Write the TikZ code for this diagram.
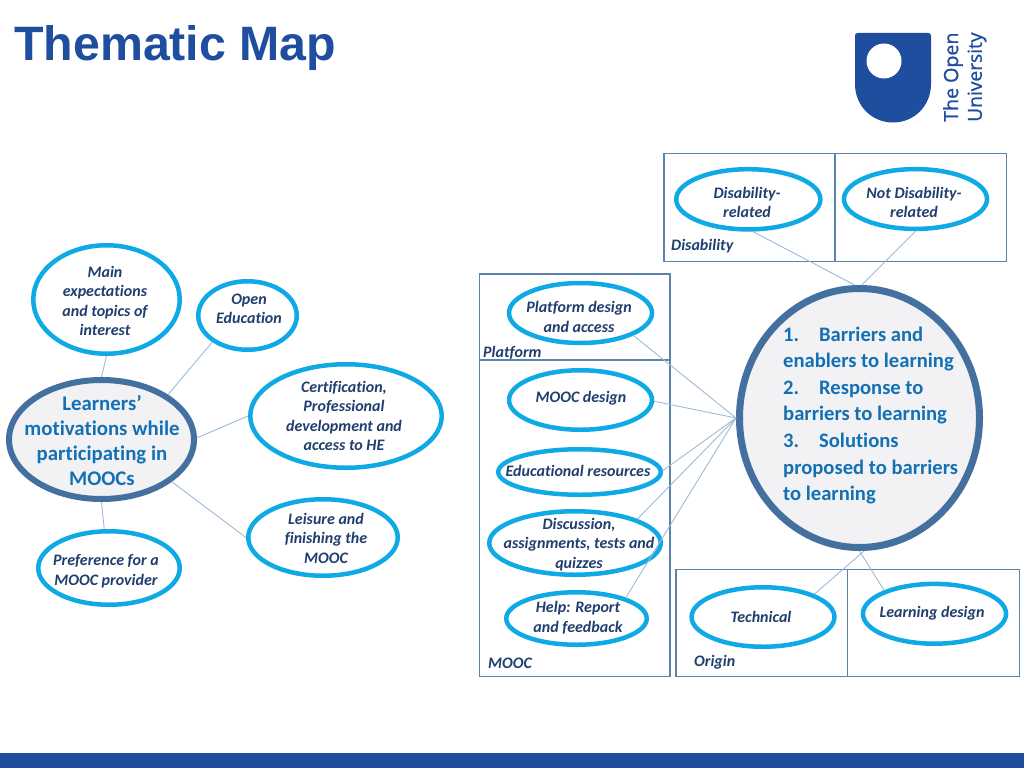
\documentclass[tikz,border=0pt]{standalone}
\usepackage{fontspec}
\setmainfont[Ligatures=NoCommon]{Carlito}
\newfontfamily\titlefont{Liberation Sans}
\newfontfamily\logofont[FakeBold=1]{Open Sans}
\usetikzlibrary{shapes.geometric}
\definecolor{oublue}{HTML}{1F4E9E}
\definecolor{cyanring}{HTML}{0FA9E6}
\definecolor{hubring}{HTML}{44709F}
\definecolor{hubfill}{HTML}{F2F2F4}
\definecolor{navy}{HTML}{203E6E}
\definecolor{hubtext}{HTML}{1470B4}
\definecolor{linkc}{HTML}{9DBBD8}
\definecolor{boxc}{HTML}{5B84AD}
\tikzset{
  x=1pt,y=-1pt,
  topic/.style={ellipse,draw=cyanring,line width=4.5pt,fill=white,inner sep=0pt},
  topictext/.style={inner sep=0pt,align=center,text=navy,font=\fontsize{16}{19.5}\selectfont\bfseries\itshape},
  hub/.style={ellipse,draw=hubring,fill=hubfill,inner sep=0pt},
  hubtextstyle/.style={inner sep=0pt,text=hubtext,font=\fontsize{#1}{25}\selectfont\bfseries},
  link/.style={draw=linkc,line width=0.9pt},
  group/.style={rectangle,draw=boxc,line width=1.4pt,inner sep=0pt,outer sep=0pt,anchor=north west},
  grouplabel/.style={anchor=base west,inner sep=0pt,text=navy,font=\fontsize{16}{19}\selectfont\bfseries\itshape},
  logotext/.style={rotate=90,anchor=west,inner sep=0pt,text=oublue},
}
\newcommand{\boxat}[5]{\node[group,minimum width=#4pt,minimum height=#5pt] (#1) at (#2,#3) {};}
\newcommand{\topicat}[8]{%
  \node[topic,minimum width=#4pt-4.5pt,minimum height=#5pt-4.5pt] (#1) at (#2,#3) {};
  \node[topictext] (#1text) at (#6,#7) {#8};}
\begin{document}
\begin{tikzpicture}
\useasboundingbox (0,0) rectangle (1024,768);
\fill[white] (0,0) rectangle (1024,768);
\node[anchor=base west,inner sep=0pt,text=oublue,font=\titlefont\fontsize{48.3}{52}\selectfont\bfseries] (title) at (14,60.5) {Thematic Map};
% logo
\fill[oublue,rounded corners=2.5pt] (855,33) -- (931,33) -- (931,84) -- (855,84) -- cycle;
\fill[oublue] (855,80) -- (931,80) -- (931,84) .. controls (931,106) and (914,122.5) .. (893,122.5) .. controls (872,122.5) and (855,106) .. (855,84) -- cycle;
\fill[white] (884,61) circle[radius=17.5];
\node[logotext,font=\logofont\fontsize{19.6}{24}\selectfont] (logoa) at (953,122) {The Open};
\node[logotext,font=\logofont\fontsize{19.2}{24}\selectfont] (logob) at (977,122) {University};
% bottom bar
\fill[oublue] (0,753) rectangle (1024,768);
% boxes
\boxat{bplat}{479.3}{274}{190.7}{86}
\boxat{bmooc}{479.3}{360}{190.7}{316.7}
\boxat{bdis}{664}{153.3}{171}{108}
\boxat{bnot}{835}{153.3}{171.7}{108}
\boxat{borig}{676}{569.3}{171.7}{107.4}
\boxat{blearn}{847.7}{569.3}{171.6}{107.4}
\node[grouplabel] (lplat) at (483,357) {Platform};
\node[grouplabel] (lmooc) at (488,668) {MOOC};
\node[grouplabel] (ldis) at (671,250) {Disability};
\node[grouplabel] (lorig) at (694,666) {Origin};
% left map
\topicat{main}{106.5}{299.5}{151}{113}{105}{301}{Main\\expectations\\and topics of\\interest}
\topicat{open}{247.5}{315.5}{103}{73}{249}{309}{Open\\Education}
\topicat{cert}{346}{416}{196}{108}{344}{416}{Certification,\\Professional\\development and\\access to HE}
\topicat{leis}{323}{537.5}{154}{81}{326}{538}{Leisure and\\finishing the\\MOOC}
\topicat{pref}{109}{568}{146}{78}{106}{571}{Preference for a\\MOOC provider}
\node[hub,line width=6pt,minimum width=185pt,minimum height=119pt] (learn) at (101.5,439.5) {};
\node[hubtextstyle=20.8,align=center] (learntext) at (102,440.5) {Learners’\\motivations while\\participating in\\MOOCs};
\draw[link] (main.270) -- (learn.90);
\draw[link] (open.217) -- (learn.34);
\draw[link] (cert.180) -- (learn.1);
\draw[link] (leis.180) -- (learn.-31);
\draw[link] (pref.97) -- (learn.270);
% right map
\topicat{dis}{748.3}{199.3}{148.7}{64.7}{747}{202.5}{Disability-\\related}
\topicat{ndis}{915.5}{199}{147.6}{64.3}{914}{202.5}{Not Disability-\\related}
\topicat{pd}{580.5}{313}{147.5}{64.5}{579}{317}{Platform design\\and access}
\topicat{md}{580.5}{400}{147.5}{64}{581}{398}{MOOC design}
\topicat{er}{579.5}{472}{167}{50}{578}{471}{Educational resources}
\topicat{da}{575}{543}{176}{68}{579}{544.5}{Discussion,\\assignments, tests and\\quizzes}
\topicat{help}{576.5}{618.5}{145}{57}{578}{618}{Help: Report\\and feedback}
\topicat{tech}{763}{617}{147.4}{64}{761}{617}{Technical}
\topicat{ld}{934.5}{613.8}{147.6}{64.3}{932}{613}{Learning design}
\node[hub,line width=7pt,minimum width=240pt,minimum height=259pt] (big) at (859.5,418) {};
\node[inner sep=0pt,align=left,anchor=west,text=hubtext,font=\fontsize{20.6}{26.6}\selectfont\bfseries] (bigtext) at (783,415.5) {1.\hspace{20pt}Barriers and\\enablers to learning\\2.\hspace{20pt}Response to\\barriers to learning\\3.\hspace{20pt}Solutions\\proposed to barriers\\to learning};
\coordinate (hubport) at (big.180);
\draw[link] (dis.-82) -- (big.92);
\draw[link] (ndis.-90) -- (big.89);
\draw[link] (tech.24) -- (big.272);
\draw[link] (ld.155.5) -- (big.270);
\draw[link] (pd.-23.6) -- (hubport);
\draw[link] (md.-1) -- (hubport);
\draw[link] (er.1) -- (hubport);
\draw[link] (da.21) -- (hubport);
\draw[link] (help.23) -- (hubport);
\end{tikzpicture}
\end{document}
